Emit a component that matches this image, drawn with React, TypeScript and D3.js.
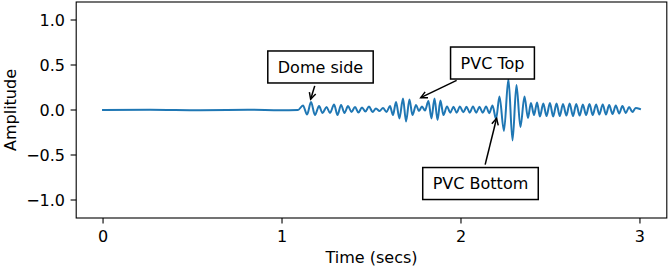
import React from "react";
import * as d3 from "d3";

// ---- data ----
const xTicks = [0, 1, 2, 3];
const yTicks = [-1.0, -0.5, 0.0, 0.5, 1.0];
const xLabel = "Time (secs)";
const yLabel = "Amplitude";

// signal extrema: [time (s), amplitude]
const signalPeaks: [number, number][] = [
  [0.0, 0.0], [0.263, 0.003], [0.542, -0.003], [0.821, 0.002], [0.989, -0.002], [1.089, 0.0],
  [1.117, 0.05], [1.14, -0.05], [1.162, 0.089], [1.184, -0.056], [1.207, 0.044], [1.226, -0.033],
  [1.249, 0.033], [1.268, -0.033], [1.291, 0.061], [1.31, -0.056], [1.33, 0.056], [1.349, -0.033],
  [1.369, 0.044], [1.388, -0.022], [1.408, 0.033], [1.427, -0.028], [1.447, 0.028], [1.466, -0.017],
  [1.486, 0.039], [1.506, -0.022], [1.525, 0.017], [1.545, -0.011], [1.564, 0.022], [1.584, -0.022],
  [1.603, 0.044], [1.62, -0.056], [1.637, 0.089], [1.656, -0.094], [1.676, 0.128], [1.693, -0.128],
  [1.712, 0.117], [1.729, -0.056], [1.749, 0.056], [1.765, -0.011], [1.782, 0.039], [1.799, -0.006],
  [1.818, 0.1], [1.835, -0.094], [1.852, 0.128], [1.869, -0.111], [1.885, 0.106], [1.902, -0.056],
  [1.922, 0.04], [1.94, -0.03], [1.958, 0.035], [1.976, -0.03], [1.994, 0.04], [2.013, -0.025],
  [2.031, 0.035], [2.049, -0.03], [2.067, 0.04], [2.085, -0.03], [2.103, 0.035], [2.122, -0.03],
  [2.14, 0.04], [2.158, -0.035], [2.176, 0.05],
  [2.196, -0.1], [2.215, 0.15], [2.24, -0.233], [2.265, 0.344], [2.288, -0.339], [2.31, 0.278],
  [2.332, -0.189], [2.355, 0.15], [2.374, -0.089], [2.391, 0.078], [2.408, -0.056], [2.425, 0.083],
  [2.441, -0.072], [2.46, 0.072], [2.478, -0.067], [2.497, 0.078], [2.515, -0.072], [2.534, 0.072],
  [2.552, -0.067], [2.57, 0.067], [2.589, -0.061], [2.607, 0.072], [2.626, -0.067], [2.644, 0.067],
  [2.663, -0.061], [2.681, 0.061], [2.699, -0.056], [2.718, 0.067], [2.736, -0.056], [2.755, 0.061],
  [2.773, -0.05], [2.792, 0.061], [2.81, -0.05], [2.828, 0.056], [2.847, -0.044], [2.865, 0.05],
  [2.884, -0.039], [2.902, 0.044], [2.921, -0.033], [2.939, 0.033], [2.958, -0.022], [2.976, 0.022],
  [3.0, 0.011],
];

// annotations
const annLabels = ["Dome side", "PVC Top", "PVC Bottom"];
const annTargetT = [1.16, 1.775, 2.199];
const annTargetA = [0.119, 0.137, -0.092];
const annTextT = [1.215, 2.176, 2.109];
const annTextA = [0.478, 0.522, -0.817];

// ---- layout ----
const W = 668;
const H = 266;
const FONT = "DejaVu Sans, sans-serif";
const FS = 16;
const TICK = 5.6;
const PAD = 5.6;

function measure(text: string): number {
  const c = document.createElement("canvas");
  const ctx = c.getContext("2d");
  if (!ctx) return text.length * FS * 0.6;
  ctx.font = `${FS}px DejaVu Sans`;
  return ctx.measureText(text).width;
}

export default function App() {
  const x = d3.scaleLinear().domain([-0.15, 3.15]).range([76.2, 666.8]);
  const y = d3.scaleLinear().domain([-1.2, 1.2]).range([218, 2]);
  const [x0, x1] = x.range();
  const [yb, yt] = y.range();

  const line = d3
    .line<[number, number]>()
    .x((d) => x(d[0]))
    .y((d) => y(d[1]))
    .curve(d3.curveMonotoneX);

  const anns = annLabels.map((label, i) => {
    const cx = x(annTextT[i]);
    const cy = y(annTextA[i]);
    const tw = measure(label);
    const bw = tw + 20;
    const bh = 32;
    const tx = x(annTargetT[i]);
    const ty = y(annTargetA[i]);
    const dx = tx - cx;
    const dy = ty - cy;
    const sx = dx !== 0 ? bw / 2 / Math.abs(dx) : Infinity;
    const sy = dy !== 0 ? bh / 2 / Math.abs(dy) : Infinity;
    const s = Math.min(sx, sy);
    const len = Math.hypot(dx, dy);
    const ux = dx / len;
    const uy = dy / len;
    const gap = 3;
    const startX = cx + dx * s + ux * gap;
    const startY = cy + dy * s + uy * gap;
    const hl = 6.5;
    const hw = 3.3;
    const bxp = tx - ux * hl;
    const byp = ty - uy * hl;
    const head = `M${bxp - uy * hw},${byp + ux * hw}L${tx},${ty}L${bxp + uy * hw},${byp - ux * hw}`;
    return { label, cx, cy, bw, bh, startX, startY, tx, ty, head };
  });

  return (
    <svg
      width={W}
      height={H}
      style={{ position: "absolute", left: 0, top: 0, background: "#fff" }}
      fontFamily={FONT}
      fontSize={FS}
    >
      <rect x={0} y={0} width={W} height={H} fill="#fff" />
      <defs>
        <clipPath id="plotclip">
          <rect x={x0} y={yt} width={x1 - x0} height={yb - yt} />
        </clipPath>
      </defs>
      <path
        d={line(signalPeaks) || ""}
        fill="none"
        stroke="#1f77b4"
        strokeWidth={2.0}
        strokeLinejoin="round"
        strokeLinecap="square"
        clipPath="url(#plotclip)"
      />
      <rect x={x0} y={yt} width={x1 - x0} height={yb - yt} fill="none" stroke="#000" strokeWidth={1.1} />
      {xTicks.map((t) => (
        <g key={"xt" + t}>
          <line x1={x(t)} x2={x(t)} y1={yb} y2={yb + TICK} stroke="#000" strokeWidth={1.1} />
          <text x={x(t)} y={241.5} textAnchor="middle" fill="#000">
            {String(t)}
          </text>
        </g>
      ))}
      {yTicks.map((t) => (
        <g key={"yt" + t}>
          <line x1={x0 - TICK} x2={x0} y1={y(t)} y2={y(t)} stroke="#000" strokeWidth={1.1} />
          <text x={x0 - TICK - PAD} y={y(t)} dy="0.36em" textAnchor="end" fill="#000">
            {d3.format(".1f")(t).replace("-", "\u2212")}
          </text>
        </g>
      ))}
      <text x={(x0 + x1) / 2} y={262.5} textAnchor="middle" fill="#000">
        {xLabel}
      </text>
      <text
        transform={`translate(15.5,${(yt + yb) / 2}) rotate(-90)`}
        textAnchor="middle"
        fill="#000"
      >
        {yLabel}
      </text>
      {anns.map((a) => (
        <g key={a.label}>
          <line x1={a.startX} y1={a.startY} x2={a.tx} y2={a.ty} stroke="#000" strokeWidth={1.5} />
          <path d={a.head} fill="none" stroke="#000" strokeWidth={1.5} />
          <rect
            x={a.cx - a.bw / 2}
            y={a.cy - a.bh / 2}
            width={a.bw}
            height={a.bh}
            fill="#fff"
            stroke="#000"
            strokeWidth={1.5}
          />
          <text x={a.cx} y={a.cy} dy="0.36em" textAnchor="middle" fill="#000">
            {a.label}
          </text>
        </g>
      ))}
    </svg>
  );
}
